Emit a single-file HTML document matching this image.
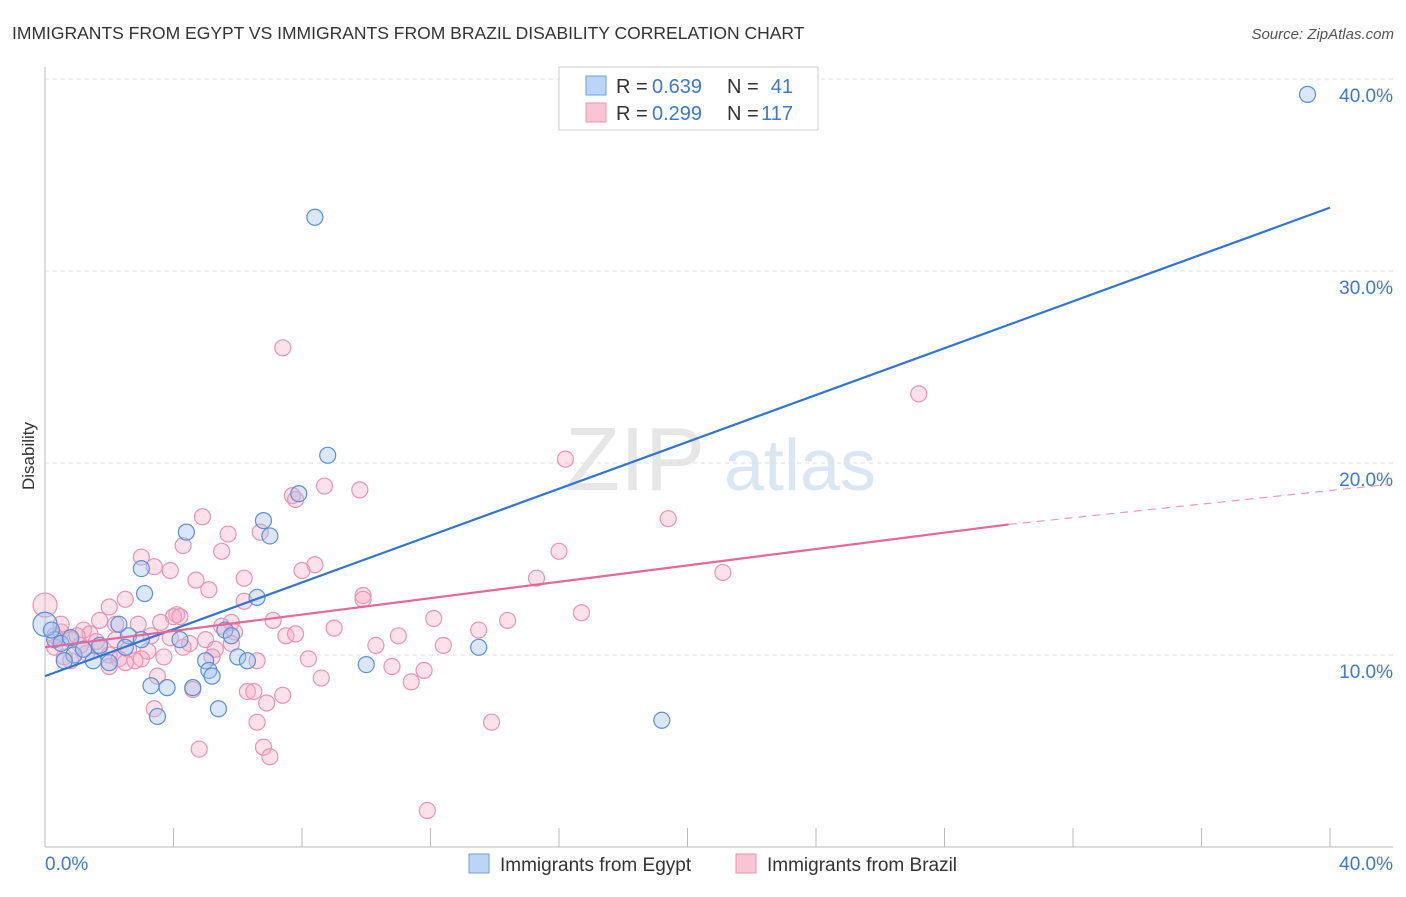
<!DOCTYPE html>
<html><head><meta charset="utf-8"><style>
body{margin:0;background:#fff;font-family:"Liberation Sans",sans-serif;}
svg text{font-family:"Liberation Sans",sans-serif;}
</style></head><body>
<svg id="c" width="1406" height="892">
<text x="12" y="39" font-size="17.5" fill="#333">IMMIGRANTS FROM EGYPT VS IMMIGRANTS FROM BRAZIL DISABILITY CORRELATION CHART</text>
<text x="1394" y="39" font-size="15" fill="#555" font-style="italic" text-anchor="end">Source: ZipAtlas.com</text>
<text x="34" y="456" font-size="17" fill="#333" transform="rotate(-90 34 456)" text-anchor="middle">Disability</text>
<g><text x="635" y="490" font-size="90" fill="#e6e6e6" font-family="Liberation Serif" text-anchor="middle">ZIP</text><text x="800" y="490" font-size="72" fill="#dbe6f3" text-anchor="middle">atlas</text></g>
<g id="grid"></g><g id="pts"></g><g id="lines"></g>
<g>
<rect x="559" y="67" width="259" height="63" fill="#fff" stroke="#ccc"/>
<rect x="586" y="76" width="20" height="19" fill="#bcd5f5" stroke="#6d9ee0"/>
<rect x="586" y="103" width="20" height="19" fill="#f9c4d4" stroke="#eb93b0"/>
<text x="616" y="93" font-size="20" fill="#333">R =</text><text x="652" y="93" font-size="20" fill="#3b78d8">0.639</text>
<text x="727" y="93" font-size="20" fill="#333">N =</text><text x="793" y="93" font-size="20" fill="#3b78d8" text-anchor="end">41</text>
<text x="616" y="120" font-size="20" fill="#333">R =</text><text x="652" y="120" font-size="20" fill="#3b78d8">0.299</text>
<text x="727" y="120" font-size="20" fill="#333">N =</text><text x="793" y="120" font-size="20" fill="#3b78d8" text-anchor="end">117</text>
</g>
<g>
<rect x="469" y="854" width="20" height="19" fill="#bcd5f5" stroke="#6d9ee0"/>
<text x="500" y="871" font-size="19" fill="#333">Immigrants from Egypt</text>
<rect x="736" y="854" width="20" height="19" fill="#f9c4d4" stroke="#eb93b0"/>
<text x="767" y="871" font-size="19" fill="#333">Immigrants from Brazil</text>
</g>
</svg>
<script>
const yTicks=[10,20,30,40];
const yTickLabels=["10.0%","20.0%","30.0%","40.0%"];
const xTickLabels=["0.0%","40.0%"];
const egyptX=[39.3,8.4,8.8,7.9,6.8,7.0,4.4,3.0,3.1,6.6,2.3,2.6,5.6,5.8,4.2,13.5,0.3,0.5,0.9,1.5,2.0,5.0,6.0,6.3,5.1,5.2,10.0,3.3,3.8,4.6,3.5,5.4,19.2,1.2,1.7,0,0.8,2.5,3.0,0.2,0.6];
const egyptY=[39.2,32.8,20.4,18.4,17.0,16.2,16.4,14.5,13.2,13.0,11.6,11.0,11.3,11.0,10.8,10.4,10.8,10.6,10.0,9.7,9.6,9.7,9.9,9.7,9.2,8.9,9.5,8.4,8.3,8.3,6.8,7.2,6.6,10.3,10.5,11.6,10.9,10.4,10.8,11.3,9.7];
const brazilX=[7.4,27.2,16.2,9.8,8.7,7.7,7.8,19.4,4.9,5.7,4.3,6.7,16.0,5.5,3.0,8.4,8.0,3.9,3.4,21.1,15.3,6.2,4.7,5.1,9.9,9.9,6.2,2.5,2.0,16.7,4.1,4.0,7.1,12.1,14.4,0,1.7,2.2,2.9,3.6,5.8,5.5,9.0,13.5,1.2,0.5,1.4,0.3,0.8,1.0,3.3,5.9,7.5,7.8,11.0,5.0,4.5,3.9,2.2,10.3,12.4,1.7,0.3,2.6,5.3,3.2,4.3,1.3,2.0,5.2,0.6,2.3,3.0,3.7,6.6,8.2,2.8,2.5,2.0,10.8,11.8,11.4,8.6,3.5,4.6,6.3,6.5,7.4,6.9,3.4,6.6,13.9,4.8,6.8,7.0,11.9,0.8,1.6,1.1,0.5,5.8,4.2];
const brazilY=[26.0,23.6,20.2,18.6,18.8,18.3,18.1,17.1,17.2,16.3,15.7,16.4,15.4,15.4,15.1,14.7,14.4,14.4,14.6,14.3,14.0,14.0,13.9,13.4,13.1,12.9,12.8,12.9,12.5,12.2,12.1,12.0,11.8,11.9,11.8,12.6,11.8,11.6,11.6,11.7,11.7,11.5,11.4,11.3,11.3,11.2,11.1,11.0,10.8,11.0,11.0,11.2,11.0,11.1,11.0,10.8,10.6,10.9,10.8,10.5,10.5,10.4,10.4,10.3,10.3,10.2,10.4,10.1,10.0,9.9,9.9,9.8,9.8,9.9,9.7,9.8,9.7,9.6,9.4,9.4,9.2,8.6,8.8,8.9,8.2,8.1,8.1,7.9,7.5,7.2,6.5,6.5,5.1,5.2,4.7,1.9,9.7,10.7,10.5,11.6,10.6,12.0];
const egyptTrend=[8.9,33.3];
const brazilTrend=[10.4,16.8,18.9];
const X=v=>45+v*32.125, Y=v=>847-v*19.2;
const NS='http://www.w3.org/2000/svg';
function mk(p,t,a){const e=document.createElementNS(NS,t);for(const k in a)e.setAttribute(k,a[k]);p.appendChild(e);return e;}
const g=document.getElementById('grid');
yTicks.forEach((t,i)=>{
 const l=mk(g,'line',{x1:45,x2:1393,y1:Y(t),y2:Y(t),stroke:'#ddd','stroke-dasharray':'4,4'});
 
 
 const tx=mk(g,'text',{x:1393,y:Y(t)+23,'font-size':19,fill:'#3b78d8','text-anchor':'end'});
 tx.textContent=yTickLabels[i];
 
 
});
mk(g,'line',{x1:45,x2:45,y1:67,y2:847,stroke:'#bbb'});
mk(g,'line',{x1:45,x2:1393,y1:847,y2:847,stroke:'#bbb'});
for(let i=0;i<=10;i++){mk(g,'line',{x1:X(i*4),x2:X(i*4),y1:828,y2:847,stroke:'#bbb'});}
xTickLabels.forEach((s,i)=>{
 const tx=mk(g,'text',{x:i?1393:45,y:870,'font-size':19,fill:'#3b78d8','text-anchor':i?'end':'start'});
 tx.textContent=s;
 
 
});
const pg=document.getElementById('pts');
brazilX.forEach((x,i)=>{
 const c=mk(pg,'circle',{cx:X(x),cy:Y(brazilY[i]),r:x===0?12:8,fill:'rgba(247,170,196,0.35)',stroke:'#eb93b0','stroke-width':1.2});
 
 
});
egyptX.forEach((x,i)=>{
 const c=mk(pg,'circle',{cx:X(x),cy:Y(egyptY[i]),r:x===0?12:8,fill:'rgba(160,195,240,0.4)',stroke:'#5b8fd9','stroke-width':1.2});
 
 
});
const lg=document.getElementById('lines');
const bl=mk(lg,'line',{x1:X(0),y1:Y(egyptTrend[0]),x2:X(40),y2:Y(egyptTrend[1]),stroke:'#2f74d6','stroke-width':2.2});


const pl=mk(lg,'line',{x1:X(0),y1:Y(brazilTrend[0]),x2:X(30),y2:Y(brazilTrend[1]),stroke:'#e4689a','stroke-width':2.2});


const pd=mk(lg,'line',{x1:X(30),y1:Y(brazilTrend[1]),x2:X(41.9),y2:Y(brazilTrend[2]),stroke:'#e89ab8','stroke-width':1.2,'stroke-dasharray':'8,6'});


</script>
</body></html>
